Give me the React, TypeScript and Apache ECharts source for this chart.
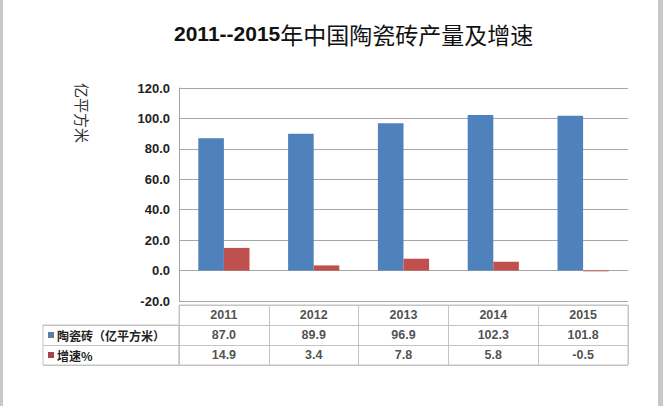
import React, { useEffect, useRef } from "react";
import * as echarts from "echarts";

const years = ["2011", "2012", "2013", "2014", "2015"];
const tileOutput = [87.0, 89.9, 96.9, 102.3, 101.8];
const growthRate = [14.9, 3.4, 7.8, 5.8, -0.5];
const seriesNames = ["陶瓷砖（亿平方米）", "增速%"];
const yMin = -20;
const yMax = 120;
const yStep = 20;

const BLUE = "#4F81BD";
const RED = "#C0504D";
const GRID_LINE = "#a6a6a6";
const TABLE_LINE = "#c4c4c4";

export default function App() {
  const ref = useRef<HTMLDivElement>(null);
  useEffect(() => {
    if (!ref.current) return;
    const chart = echarts.init(ref.current, null, { renderer: "svg" });

    const cellData: any[] = [];
    years.forEach((y, i) => {
      cellData.push([i, 0, y]);
      cellData.push([i, 1, tileOutput[i].toFixed(1)]);
      cellData.push([i, 2, growthRate[i].toFixed(1)]);
    });

    const option: any = {
      animation: false,
      backgroundColor: "#ffffff",
      title: {
        left: 169,
        top: 17,
        text: "{a|2011--2015}{b|年中国陶瓷砖产量及增速}",
        textStyle: {
          rich: {
            a: {
              fontFamily: "Liberation Sans",
              fontWeight: "bold",
              fontSize: 21,
              color: "#111",
            },
            b: {
              fontFamily: "Noto Sans CJK SC",
              fontWeight: "normal",
              fontSize: 23,
              color: "#111",
            },
          },
        },
      },
      grid: [
        { left: 179, top: 88, width: 449, height: 213 },
        {
          left: 179,
          top: 305,
          width: 449,
          height: 60,
          show: true,
          borderColor: TABLE_LINE,
          borderWidth: 1,
        },
        {
          left: 43,
          top: 325,
          width: 136,
          height: 40,
          show: true,
          borderColor: TABLE_LINE,
          borderWidth: 1,
        },
      ],
      xAxis: [
        {
          type: "category",
          gridIndex: 0,
          data: years,
          axisLine: { show: false },
          axisTick: { show: false },
          axisLabel: { show: false },
        },
        {
          type: "category",
          gridIndex: 1,
          data: years,
          axisLine: { show: false },
          axisTick: { show: false },
          axisLabel: { show: false },
          splitLine: { show: true, interval: 0, lineStyle: { color: TABLE_LINE } },
        },
        {
          type: "value",
          gridIndex: 2,
          show: false,
        },
      ],
      yAxis: [
        {
          type: "value",
          gridIndex: 0,
          min: yMin,
          max: yMax,
          interval: yStep,
          axisLine: { show: true, lineStyle: { color: GRID_LINE } },
          axisTick: { show: false },
          splitLine: { lineStyle: { color: GRID_LINE, width: 1 } },
          axisLabel: {
            formatter: (v: number) => v.toFixed(1),
            fontFamily: "Liberation Sans",
            fontWeight: "bold",
            fontSize: 13,
            color: "#222",
            margin: 9,
          },
        },
        {
          type: "category",
          gridIndex: 1,
          inverse: true,
          data: ["", seriesNames[0], seriesNames[1]],
          axisLine: { show: false },
          axisTick: { show: false },
          axisLabel: { show: false },
          splitLine: { show: true, interval: 0, lineStyle: { color: TABLE_LINE } },
        },
        {
          type: "category",
          gridIndex: 2,
          inverse: true,
          data: seriesNames,
          axisLine: { show: false },
          axisTick: { show: false },
          splitLine: { show: true, interval: 0, lineStyle: { color: TABLE_LINE } },
          axisLabel: {
            align: "left",
            margin: -5,
            formatter: (v: string, idx: number) =>
              (idx === 0 ? "{s0|}" : "{s1|}") + "{t|" + v + "}",
            rich: {
              s0: { width: 6, height: 6, backgroundColor: "#5b7ea6", padding: 0 },
              s1: { width: 6, height: 6, backgroundColor: "#a8424f", padding: 0 },
              t: {
                fontFamily: "Noto Sans CJK SC",
                fontWeight: "bold",
                fontSize: 12,
                color: "#222",
                padding: [0, 0, 0, 3],
              },
            },
          },
        },
      ],
      series: [
        {
          name: seriesNames[0],
          type: "bar",
          xAxisIndex: 0,
          yAxisIndex: 0,
          data: tileOutput,
          itemStyle: { color: BLUE },
          barGap: "0%",
          barCategoryGap: "43%",
        },
        {
          name: seriesNames[1],
          type: "bar",
          xAxisIndex: 0,
          yAxisIndex: 0,
          data: growthRate,
          itemStyle: { color: RED },
          barGap: "0%",
          barCategoryGap: "43%",
        },
        {
          type: "scatter",
          xAxisIndex: 1,
          yAxisIndex: 1,
          data: cellData,
          symbolSize: 1,
          itemStyle: { color: "transparent" },
          silent: true,
          label: {
            show: true,
            position: "inside",
            formatter: (p: any) => p.value[2],
            fontFamily: "Liberation Sans",
            fontWeight: "bold",
            fontSize: 12.5,
            color: "#222",
          },
        },
      ],
      graphic: [
        {
          type: "rect",
          shape: { x: 0, y: 0, width: 3, height: 406 },
          style: { fill: "#c8c8c8" },
        },
        {
          type: "rect",
          shape: { x: 658, y: 0, width: 5, height: 406 },
          style: { fill: "#c8c8c8" },
        },
        {
          type: "text",
          x: 82,
          y: 113,
          rotation: -Math.PI / 2,
          style: {
            text: "亿平方米",
            fontFamily: "Noto Sans CJK SC",
            fontSize: 15,
            fill: "#333",
            textAlign: "center",
            textVerticalAlign: "middle",
          },
        },
      ],
    };

    chart.setOption(option);
    return () => chart.dispose();
  }, []);

  return (
    <div
      ref={ref}
      style={{ position: "absolute", left: 0, top: 0, width: 663, height: 406 }}
    />
  );
}
